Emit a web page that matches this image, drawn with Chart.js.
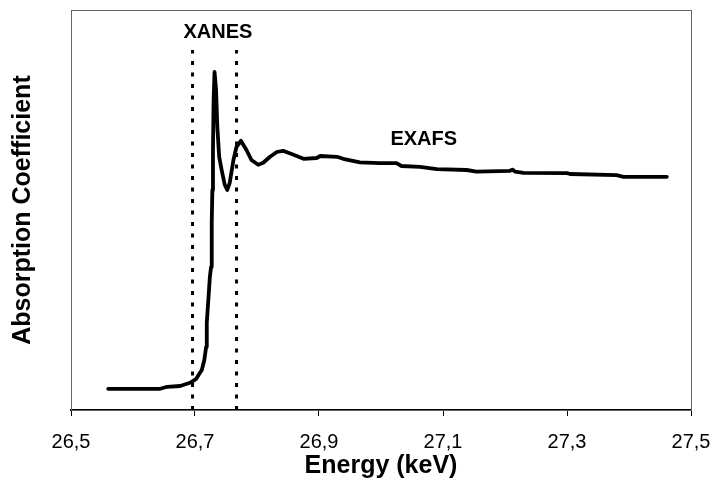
<!DOCTYPE html>
<html>
<head>
<meta charset="utf-8">
<script src="https://cdn.jsdelivr.net/npm/chart.js@4.4.1/dist/chart.umd.min.js"></script>
<style>
  html, body { margin: 0; padding: 0; background: #fff; }
  #wrap { width: 717px; height: 496px; }
</style>
</head>
<body>
<div id="wrap"><canvas id="xasChart" width="717" height="496"></canvas></div>
<script>
// Spectrum: energy (keV) and absorption (arbitrary units, 0-100)
const energy = [
  26.560, 26.644, 26.655, 26.676, 26.692, 26.702, 26.708, 26.711, 26.715, 26.718,
  26.719, 26.7215, 26.724, 26.726, 26.727, 26.728, 26.729, 26.730, 26.7315, 26.734,
  26.736, 26.739, 26.743, 26.748, 26.752, 26.756, 26.762, 26.767, 26.774, 26.783,
  26.791, 26.802, 26.810, 26.821, 26.832, 26.842, 26.859, 26.875, 26.896, 26.902,
  26.929, 26.939, 26.966, 26.998, 27.025, 27.033, 27.063, 27.090, 27.138, 27.154,
  27.208, 27.212, 27.216, 27.230, 27.300, 27.305, 27.380, 27.391, 27.461
];
const absorption = [
  5.3, 5.3, 5.8, 6.0, 6.8, 7.8, 9.3, 10.0, 12.5, 15.8,
  21.8, 27.5, 33.3, 35.8, 46.8, 55.0, 65.0, 77.5, 84.5, 80.0,
  70.8, 63.3, 60.0, 56.3, 55.0, 56.8, 62.5, 65.8, 67.3, 65.0,
  62.5, 61.3, 61.8, 63.3, 64.5, 64.8, 63.8, 62.8, 63.0, 63.5,
  63.3, 62.8, 61.9, 61.7, 61.7, 61.0, 60.8, 60.2, 60.0, 59.6,
  59.8, 60.1, 59.6, 59.3, 59.2, 59.0, 58.7, 58.3, 58.3
];

// XANES window edges (keV) and their height
const xanesEdges = [26.696, 26.767];
const edgeRange = [0, 90];

// Axis
const xMin = 26.5, xMax = 27.5, xStep = 0.2;

// Region labels
const labels = [
  { text: 'XANES', x: 26.737, y: 94.5 },
  { text: 'EXAFS', x: 27.069, y: 67.75 }
];

const datasets = [{
  data: energy.map((e, i) => ({ x: e, y: absorption[i] })),
  borderColor: '#000',
  borderWidth: 3.8,
  pointRadius: 0,
  tension: 0,
  borderJoinStyle: 'round',
  borderCapStyle: 'round'
}];
xanesEdges.forEach(e => {
  datasets.push({
    data: edgeRange.map(v => ({ x: e, y: v })),
    borderColor: '#000',
    borderWidth: 3,
    borderDash: [4, 7.5],
    pointRadius: 0
  });
});

// frame round the plot area + text labels
const framePlugin = {
  id: 'frame',
  beforeDatasetsDraw(chart) {
    const { ctx, chartArea: a } = chart;
    ctx.save();
    ctx.strokeStyle = '#666';
    ctx.lineWidth = 1;
    ctx.strokeRect(a.left + 0.5, a.top + 0.5, a.right - a.left, a.bottom - a.top);
    ctx.restore();
  },
  afterDraw(chart) {
    const { ctx, scales } = chart;
    ctx.save();
    ctx.fillStyle = '#000';
    ctx.font = 'bold 20px "Liberation Sans", Arial, sans-serif';
    ctx.textAlign = 'center';
    ctx.textBaseline = 'middle';
    labels.forEach(l => {
      ctx.fillText(l.text, scales.x.getPixelForValue(l.x), scales.y.getPixelForValue(l.y));
    });
    ctx.restore();
  }
};

new Chart(document.getElementById('xasChart').getContext('2d'), {
  type: 'line',
  data: { datasets: datasets },
  options: {
    responsive: false,
    animation: false,
    layout: { padding: { top: 10, right: 26, left: 0, bottom: 0 } },
    plugins: { legend: { display: false }, tooltip: { enabled: false } },
    scales: {
      x: {
        type: 'linear',
        min: xMin,
        max: xMax,
        afterFit: s => { s.height = 86; s.paddingLeft = 0; s.paddingRight = 0; },
        afterBuildTicks: s => {
          s.ticks = [];
          for (let v = xMin; v <= xMax + 1e-9; v += xStep) s.ticks.push({ value: +v.toFixed(1) });
        },
        ticks: {
          color: '#000',
          padding: 14,
          maxRotation: 0,
          font: { family: '"Liberation Sans", Arial, sans-serif', size: 20 },
          callback: v => v.toFixed(1).replace('.', ',')
        },
        grid: { drawOnChartArea: false, drawTicks: true, tickLength: 6, color: '#000', lineWidth: 1 },
        border: { color: '#000', width: 2 },
        title: {
          display: true,
          text: 'Energy (keV)',
          color: '#000',
          padding: { top: 0, bottom: 15 },
          font: { family: '"Liberation Sans", Arial, sans-serif', size: 25, weight: 'bold' }
        }
      },
      y: {
        min: 0,
        max: 100,
        afterFit: s => { s.width = 71; },
        ticks: { display: false },
        grid: { display: false },
        border: { color: '#666', width: 1 },
        title: {
          display: true,
          text: 'Absorption Coefficient',
          color: '#000',
          padding: { top: 8, bottom: 0 },
          font: { family: '"Liberation Sans", Arial, sans-serif', size: 25, weight: 'bold' }
        }
      }
    }
  },
  plugins: [framePlugin]
});
</script>
</body>
</html>
